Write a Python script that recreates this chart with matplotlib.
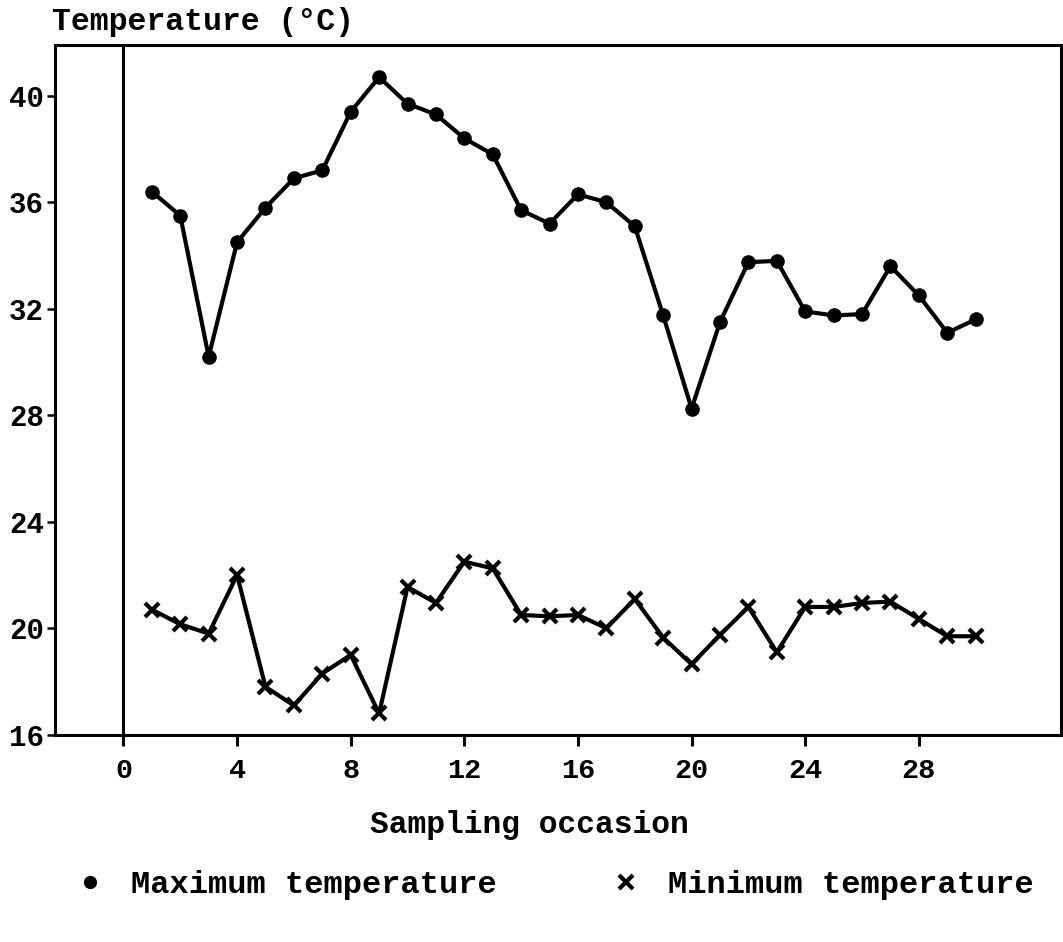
import matplotlib.pyplot as plt
import numpy as np
from matplotlib.lines import Line2D

plt.rcParams['font.family'] = ['Liberation Mono', 'DejaVu Sans Mono']
plt.rcParams['font.weight'] = 'bold'

# sampling occasions 1..30
occasion = np.arange(1, 31)

t_max = [36.4, 35.5, 30.2, 34.5, 35.8, 36.9, 37.2, 39.4, 40.7, 39.7,
         39.3, 38.4, 37.8, 35.7, 35.2, 36.3, 36.0, 35.1, 31.75, 28.25,
         31.5, 33.75, 33.8, 31.9, 31.75, 31.8, 33.6, 32.5, 31.1, 31.6]

t_min = [20.7, 20.15, 19.8, 22.0, 17.8, 17.1, 18.3, 19.0, 16.8, 21.55,
         20.95, 22.5, 22.25, 20.5, 20.45, 20.5, 20.0, 21.1, 19.65, 18.65,
         19.75, 20.8, 19.1, 20.8, 20.8, 20.95, 21.0, 20.35, 19.7, 19.7]

x_ticks = [0, 4, 8, 12, 16, 20, 24, 28]
y_ticks = [16, 20, 24, 28, 32, 36, 40]

fig = plt.figure(figsize=(10.63, 9.42), dpi=100)
ax = fig.add_axes([0.052, 0.22, 0.946, 0.732])

ax.plot(occasion, t_max, color='black', lw=3, marker='o', ms=9.5, zorder=3)
ax.plot(occasion, t_min, color='black', lw=3, marker='x', ms=10.5, mew=3, zorder=3)

# vertical reference line at occasion 0
ax.axvline(0, color='black', lw=2.2)

ax.set_xlim(-2.4, 33.0)
ax.set_ylim(16, 41.9)
ax.set_xticks(x_ticks)
ax.set_yticks(y_ticks)
ax.tick_params(axis='x', direction='out', length=8, width=2.2, labelsize=20.5, pad=9)
ax.tick_params(axis='y', direction='out', length=6, width=1.8, labelsize=21, pad=2)
for s in ax.spines.values():
    s.set_linewidth(2.2)

fig.text(0.049, 1 - 22 / 942, 'Temperature (°C)', fontsize=22.7, va='center', ha='left')
fig.text(529 / 1063, 1 - 825 / 942, 'Sampling occasion', fontsize=22.5, va='center', ha='center')

handles = [Line2D([], [], color='black', marker='o', ms=8.5, ls='none'),
           Line2D([], [], color='black', marker='x', ms=10, mew=3, ls='none')]
fig.legend(handles, ['Maximum temperature', 'Minimum temperature'],
           loc='center left', bbox_to_anchor=(0.0423, 1 - 885 / 942), ncol=2,
           frameon=False, fontsize=23, handletextpad=0.8, columnspacing=3.55,
           handlelength=1.0)

fig.savefig('out.png', dpi=100, facecolor='white')
